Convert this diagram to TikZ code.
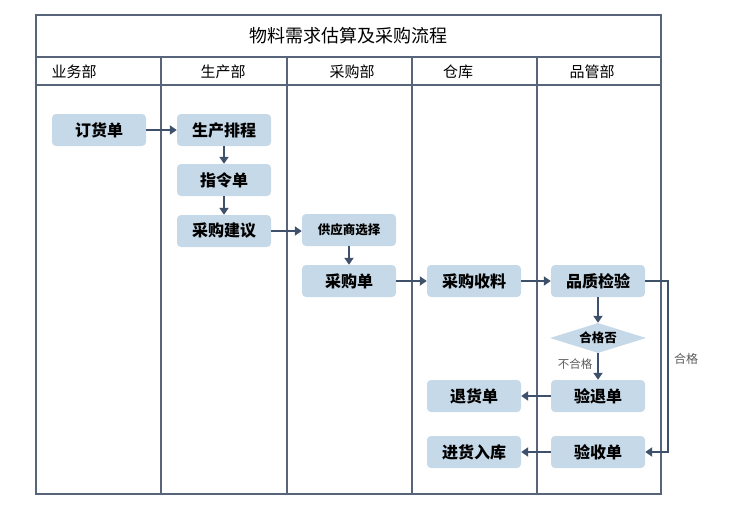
\documentclass[tikz,border=0pt]{standalone}
\usepackage{fontspec}
\usepackage{tikz}
\usetikzlibrary{arrows.meta,shapes.geometric}
\newfontfamily\cjk{Noto Sans CJK SC}
\definecolor{boxfill}{RGB}{198,217,232}
\definecolor{flowline}{RGB}{62,80,106}
\definecolor{gridline}{RGB}{88,100,122}
\definecolor{notetext}{RGB}{90,90,90}

\tikzset{
  stepbox/.style={draw=none, fill=boxfill, rounded corners=4pt, minimum width=94pt,
    minimum height=32pt, inner sep=0pt, font=\cjk\bfseries\fontsize{16}{16}\selectfont},
  flow/.style={draw=flowline, line width=2.6pt, -{Triangle[length=7pt,width=9pt]}},
  lane/.style={draw=gridline, line width=1.3pt},
  head/.style={font=\cjk\fontsize{15}{15}\selectfont}
}

\begin{document}
\begin{tikzpicture}[x=1pt,y=-1pt]
\useasboundingbox (0,0) rectangle (729,506);

% Frame
\draw[lane] (36,15) rectangle (661,494);
\draw[lane] (36,57)--(661,57);
\draw[lane] (36,85)--(661,85);

% Lanes
\foreach \x in {161,287,412,537}
  \draw[lane] (\x,57)--(\x,494);

% Title and lane heads
\node[font=\cjk\fontsize{18}{18}\selectfont] (title) at (348,36) {物料需求估算及采购流程};
\node[head] (hsales) at (74,72) {业务部};
\node[head] (hprod) at (223,72) {生产部};
\node[head] (hbuy) at (352,72) {采购部};
\node[head] (hstore) at (458,72) {仓库};
\node[head] (hqc) at (592,72) {品管部};

% Steps
\node[stepbox] (order) at (99,130) {订货单};
\node[stepbox] (plan) at (224,130) {生产排程};
\node[stepbox] (cmd) at (224,180) {指令单};
\node[stepbox] (advice) at (224,231) {采购建议};
\node[stepbox, font=\cjk\bfseries\fontsize{12.5}{12.5}\selectfont] (vendor) at (349,230) {供应商选择};
\node[stepbox] (po) at (349,281) {采购单};
\node[stepbox] (recv) at (474,281) {采购收料};
\node[stepbox] (check) at (598,281) {品质检验};
\node[diamond, fill=boxfill, aspect=3.2, minimum width=96pt, minimum height=30pt, inner sep=0pt,
  font=\cjk\bfseries\fontsize{12.5}{12.5}\selectfont] (ok) at (598,338) {合格否};
\node[stepbox] (reject) at (598,396) {验退单};
\node[stepbox] (retgoods) at (474,396) {退货单};
\node[stepbox] (accept) at (598,452) {验收单};
\node[stepbox] (stock) at (474,452) {进货入库};

% Flow
\draw[flow] (order)--(plan);
\draw[flow] (plan)--(cmd);
\draw[flow] (cmd)--(advice);
\draw[flow] (advice.east)--(vendor.west |- advice.east);
\draw[flow] (vendor)--(po);
\draw[flow] (po)--(recv);
\draw[flow] (recv)--(check);
\draw[flow] (check)--(ok);
\draw[flow] (ok)--(reject)
  node[pos=0.4, left=1pt, text=notetext, font=\cjk\fontsize{11.5}{11.5}\selectfont] {不合格};
\draw[flow] (reject)--(retgoods);
\draw[flow] (accept)--(stock);
\coordinate (turn) at (668,281);
\draw[flow] (check.east)--(turn)--(turn |- accept.east)--(accept.east);
\node[text=notetext, font=\cjk\fontsize{12}{12}\selectfont] (oklabel) at (686,359) {合格};

\end{tikzpicture}
\end{document}
